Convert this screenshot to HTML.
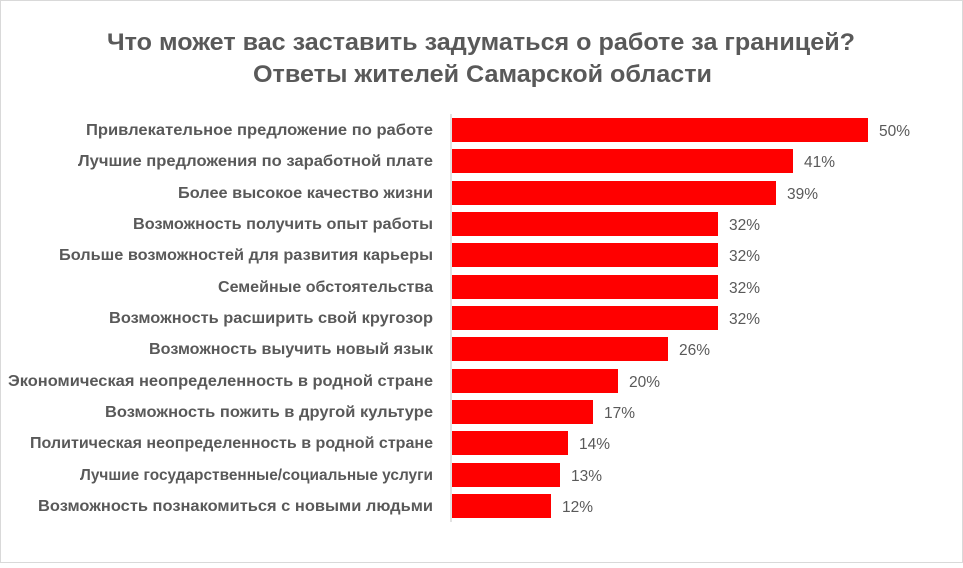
<!DOCTYPE html>
<html><head><meta charset="utf-8"><style>
body{margin:0;background:#fff;}
</style></head><body>
<svg width="963" height="563" xmlns="http://www.w3.org/2000/svg" font-family="Liberation Sans, sans-serif">
<rect x="0.5" y="0.5" width="962" height="562" fill="#fff" stroke="#d9d9d9"/>
<text x="107" y="50" textLength="748" lengthAdjust="spacingAndGlyphs" font-size="24" font-weight="bold" fill="#595959">Что может вас заставить задуматься о работе за границей?</text>
<text x="253" y="82" textLength="459" lengthAdjust="spacingAndGlyphs" font-size="24" font-weight="bold" fill="#595959">Ответы жителей Самарской области</text>
<line x1="451" y1="114" x2="451" y2="522" stroke="#d9d9d9" stroke-width="1.5"/>
<g font-size="15" fill="#595959">
<g font-weight="bold" font-size="15.5">
<text x="86" y="135" textLength="347" lengthAdjust="spacingAndGlyphs">Привлекательное предложение по работе</text>
<text x="78" y="166" textLength="355" lengthAdjust="spacingAndGlyphs">Лучшие предложения по заработной плате</text>
<text x="178" y="198" textLength="255" lengthAdjust="spacingAndGlyphs">Более высокое качество жизни</text>
<text x="133" y="229" textLength="300" lengthAdjust="spacingAndGlyphs">Возможность получить опыт работы</text>
<text x="59" y="260" textLength="374" lengthAdjust="spacingAndGlyphs">Больше возможностей для развития карьеры</text>
<text x="218" y="292" textLength="215" lengthAdjust="spacingAndGlyphs">Семейные обстоятельства</text>
<text x="109" y="323" textLength="324" lengthAdjust="spacingAndGlyphs">Возможность расширить свой кругозор</text>
<text x="149" y="354" textLength="284" lengthAdjust="spacingAndGlyphs">Возможность выучить новый язык</text>
<text x="8" y="386" textLength="425" lengthAdjust="spacingAndGlyphs">Экономическая неопределенность в родной стране</text>
<text x="105" y="417" textLength="328" lengthAdjust="spacingAndGlyphs">Возможность пожить в другой культуре</text>
<text x="30" y="448" textLength="403" lengthAdjust="spacingAndGlyphs">Политическая неопределенность в родной стране</text>
<text x="80" y="480" textLength="353" lengthAdjust="spacingAndGlyphs">Лучшие государственные/социальные услуги</text>
<text x="38" y="511" textLength="395" lengthAdjust="spacingAndGlyphs">Возможность познакомиться с новыми людьми</text>
</g>
<g fill="#ff0000">
<rect x="452" y="118" width="416" height="24"/>
<rect x="452" y="149" width="341" height="24"/>
<rect x="452" y="181" width="324" height="24"/>
<rect x="452" y="212" width="266" height="24"/>
<rect x="452" y="243" width="266" height="24"/>
<rect x="452" y="275" width="266" height="24"/>
<rect x="452" y="306" width="266" height="24"/>
<rect x="452" y="337" width="216" height="24"/>
<rect x="452" y="369" width="166" height="24"/>
<rect x="452" y="400" width="141" height="24"/>
<rect x="452" y="431" width="116" height="24"/>
<rect x="452" y="463" width="108" height="24"/>
<rect x="452" y="494" width="99" height="24"/>
</g>
<g font-size="15.5">
<text x="879" y="136">50%</text>
<text x="804" y="167">41%</text>
<text x="787" y="199">39%</text>
<text x="729" y="230">32%</text>
<text x="729" y="261">32%</text>
<text x="729" y="293">32%</text>
<text x="729" y="324">32%</text>
<text x="679" y="355">26%</text>
<text x="629" y="387">20%</text>
<text x="604" y="418">17%</text>
<text x="579" y="449">14%</text>
<text x="571" y="481">13%</text>
<text x="562" y="512">12%</text>
</g>
</g>
</svg>
</body></html>
